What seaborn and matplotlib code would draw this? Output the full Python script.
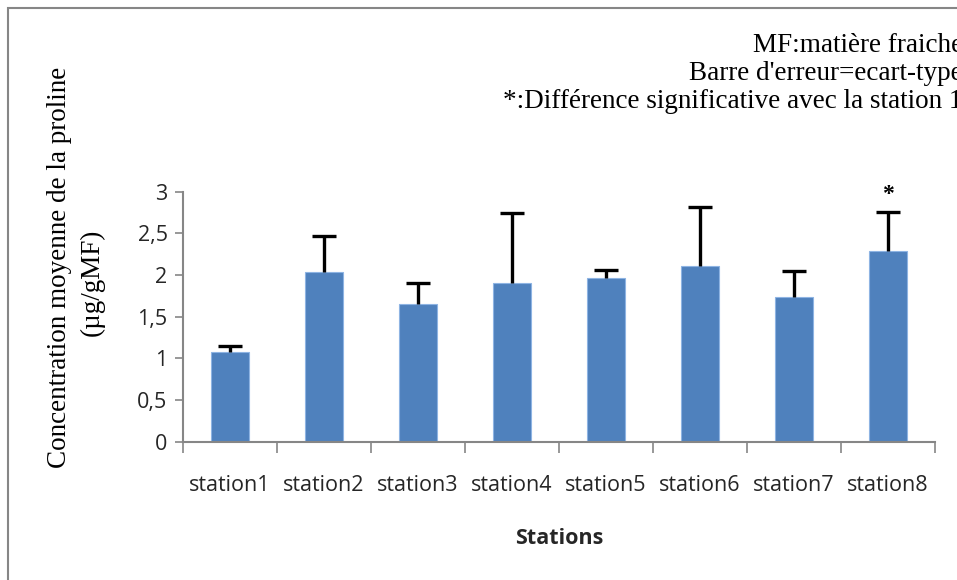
import matplotlib
matplotlib.use("Agg")
import matplotlib.pyplot as plt
import seaborn as sns
import pandas as pd
from matplotlib.patches import Rectangle

stations = ["station1", "station2", "station3", "station4",
            "station5", "station6", "station7", "station8"]
means = [1.08, 2.04, 1.65, 1.90, 1.97, 2.11, 1.74, 2.29]
sd = [0.07, 0.43, 0.26, 0.84, 0.09, 0.71, 0.31, 0.47]
yticks = [0, 0.5, 1, 1.5, 2, 2.5, 3]
ytick_labels = ["0", "0,5", "1", "1,5", "2", "2,5", "3"]
notes = ["MF:matière fraiche", "Barre d'erreur=ecart-type",
         "*:Différence significative avec la station 1"]
signif = ["", "", "", "", "", "", "", "*"]
ylabel_lines = ["Concentration moyenne de la proline", "(µg/gMF)"]

sns.set_theme(style="white")
plt.rcParams['font.family'] = ['Open Sans', 'DejaVu Sans']

df = pd.DataFrame({"station": stations, "mean": means, "sd": sd})

W, H = 957, 580
fig = plt.figure(figsize=(W / 100, H / 100), dpi=100)
ax = fig.add_axes([0.191, 0.2385, 0.786, 0.431])

sns.barplot(data=df, x="station", y="mean", color="#4F81BD", width=0.4,
            saturation=1, edgecolor="#8EB4E3", linewidth=0.8, ax=ax)
eb = ax.errorbar(range(len(stations)), means, yerr=[[0] * len(sd), sd], fmt="none",
                 ecolor="black", elinewidth=2.4, capsize=8.5, capthick=2.4, zorder=3)
# hide the lower caps (only upper error shown)
eb[1][0].set_visible(False)

for i, s in enumerate(signif):
    if s:
        ax.text(i, means[i] + sd[i] + 0.08, s, ha="center", va="bottom",
                fontsize=17, fontweight="bold", family=["Liberation Serif"], color="black")

ax.set_ylim(0, 3)
ax.set_xlim(-0.5, len(stations) - 0.5)
ax.set_yticks(yticks)
ax.set_yticklabels(ytick_labels, fontsize=15.5)
ax.set_xticks(range(len(stations)))
ax.set_xticklabels(stations, fontsize=15.5)
ax.tick_params(axis="x", length=0, pad=24)
ax.tick_params(axis="y", length=6, width=1.2, color="#868686", direction="out", left=True, pad=5)
ax.set_xticks([i - 0.5 for i in range(len(stations) + 1)], minor=True)
ax.tick_params(axis="x", which="minor", length=8, width=1.2, color="#868686",
               direction="out", bottom=True)

for sp in ["top", "right"]:
    ax.spines[sp].set_visible(False)
for sp in ["left", "bottom"]:
    ax.spines[sp].set_color("#868686")
    ax.spines[sp].set_linewidth(1.5)

ax.set_xlabel("Stations", fontsize=15.5, fontweight="bold", labelpad=23)
ax.set_ylabel("")

fig.text(60 / W, 1 - 267 / H, ylabel_lines[0], rotation=90, ha="center", va="center",
         fontsize=19.5, family=["Liberation Serif"], color="black")
fig.text(92 / W, 1 - 282 / H, ylabel_lines[1], rotation=90, ha="center", va="center",
         fontsize=19.5, family=["Liberation Serif"], color="black")

for k, t in enumerate(notes):
    fig.text(1.006, 1 - (45 + k * 28.5) / H, t, ha="right", va="center",
             fontsize=19.5, family=["Liberation Serif"], color="black")

fig.patches.append(Rectangle((8 / W, -0.1), 1.2, 1 - 8 / H + 0.1,
                             transform=fig.transFigure, fill=False,
                             edgecolor="#868686", linewidth=1.5))

fig.savefig("out.png", dpi=100)
